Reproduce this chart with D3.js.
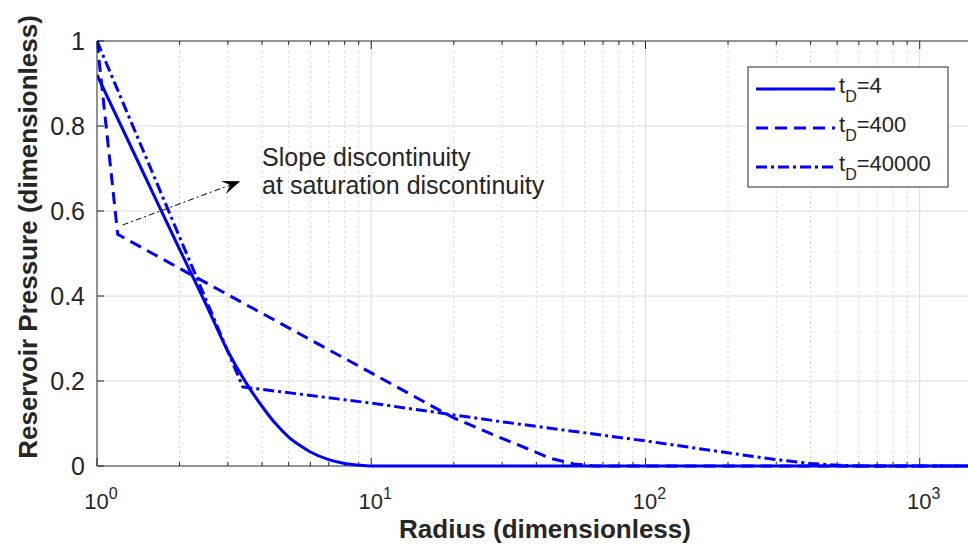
<!DOCTYPE html>
<html>
<head>
<meta charset="utf-8">
<script src="https://cdn.jsdelivr.net/npm/d3@7"></script>
<style>
  body { margin: 0; background: #fff; }
  svg { display: block; font-family: "Liberation Sans", Arial, sans-serif; }
</style>
</head>
<body>
<svg id="chart" width="968" height="550"></svg>
<script>
// radius (dimensionless) and pressure for each t_D curve
const radiusTD4 = [1, 1.5, 2, 2.5, 3, 3.5, 4, 4.5, 5, 5.5, 6, 7, 8, 9, 10, 1500];
const pressureTD4 = [0.92, 0.68, 0.51, 0.38, 0.27, 0.195, 0.14, 0.098, 0.068, 0.048, 0.033, 0.015, 0.006, 0.002, 0, 0];

const radiusTD400 = [1, 1.19, 2, 5, 10, 20, 30, 38, 45, 55, 65, 1500];
const pressureTD400 = [1, 0.545, 0.465, 0.325, 0.219, 0.113, 0.065, 0.038, 0.018, 0.005, 0, 0];

const radiusTD40000 = [1, 3.4, 10, 30, 100, 200, 300, 400, 500, 600, 1500];
const pressureTD40000 = [1, 0.186, 0.148, 0.104, 0.059, 0.031, 0.015, 0.006, 0.002, 0, 0];

const seriesNames = ["4", "400", "40000"];
const yTicks = [0, 0.2, 0.4, 0.6, 0.8, 1];
const xMajorTicks = [1, 10, 100, 1000];
const xTickPowers = ["0", "1", "2", "3"];

// annotation: arrow from/to (radius, pressure) and text anchor
const arrowFrom = [1.24, 0.567];
const arrowTo = [3.33, 0.67];
const noteAt = [4.0, 0.706];
const noteLines = ["Slope discontinuity", "at saturation discontinuity"];

const svg = d3.select("#chart");
const mLeft = 97, mRight = 968, mTop = 41, mBottom = 466;
const xMax = 1500;

const x = d3.scaleLog().domain([1, xMax]).range([mLeft, mRight]);
const y = d3.scaleLinear().domain([0, 1]).range([mBottom, mTop]);

const ink = "#262626";

// minor ticks 2..9 per decade
const xMinorTicks = [];
xMajorTicks.forEach(d => {
    for (let k = 2; k <= 9; k++) {
        if (d * k <= xMax) xMinorTicks.push(d * k);
    }
});

const grid = svg.append("g");
grid.selectAll(".minor").data(xMinorTicks).enter().append("line")
    .attr("x1", d => x(d)).attr("x2", d => x(d))
    .attr("y1", mTop).attr("y2", mBottom)
    .attr("stroke", "#d6d6d6").attr("stroke-width", 1)
    .attr("stroke-dasharray", "2,3");
grid.selectAll(".majorx").data(xMajorTicks.slice(1)).enter().append("line")
    .attr("x1", d => x(d)).attr("x2", d => x(d))
    .attr("y1", mTop).attr("y2", mBottom)
    .attr("stroke", "#dcdcdc").attr("stroke-width", 1);
grid.selectAll(".majory").data(yTicks.slice(1, -1)).enter().append("line")
    .attr("x1", mLeft).attr("x2", mRight)
    .attr("y1", d => y(d)).attr("y2", d => y(d))
    .attr("stroke", "#dcdcdc").attr("stroke-width", 1);

// axes box + ticks
const axes = svg.append("g");
axes.append("line").attr("x1", mLeft).attr("x2", mLeft).attr("y1", mTop).attr("y2", mBottom)
    .attr("stroke", ink).attr("stroke-width", 1);
axes.append("line").attr("x1", mLeft).attr("x2", mRight).attr("y1", mTop).attr("y2", mTop)
    .attr("stroke", ink).attr("stroke-width", 1);
axes.append("line").attr("x1", mLeft).attr("x2", mRight).attr("y1", mBottom).attr("y2", mBottom)
    .attr("stroke", ink).attr("stroke-width", 1);

axes.selectAll(".ytick").data(yTicks).enter().append("line")
    .attr("x1", mLeft).attr("x2", mLeft + 7)
    .attr("y1", d => y(d)).attr("y2", d => y(d))
    .attr("stroke", ink);
axes.selectAll(".ylab").data(yTicks).enter().append("text")
    .attr("x", mLeft - 12).attr("y", d => y(d)).attr("dy", "0.36em")
    .attr("text-anchor", "end").attr("font-size", 25).attr("fill", ink)
    .text(d => d3.format("")(d));

const xTickAll = xMajorTicks.map(d => ({ v: d, len: 8 }))
    .concat(xMinorTicks.map(d => ({ v: d, len: 4 })));
axes.selectAll(".xtickb").data(xTickAll).enter().append("line")
    .attr("x1", d => x(d.v)).attr("x2", d => x(d.v))
    .attr("y1", mBottom).attr("y2", d => mBottom - d.len)
    .attr("stroke", ink);
axes.selectAll(".xtickt").data(xTickAll).enter().append("line")
    .attr("x1", d => x(d.v)).attr("x2", d => x(d.v))
    .attr("y1", mTop).attr("y2", d => mTop + d.len)
    .attr("stroke", ink);

const xl = axes.selectAll(".xlab").data(xMajorTicks).enter().append("text")
    .attr("x", d => x(d) + 4).attr("y", 509)
    .attr("text-anchor", "middle").attr("font-size", 22).attr("fill", ink);
xl.append("tspan").text("10");
xl.append("tspan").attr("dy", -10).attr("font-size", 16).text((d, i) => xTickPowers[i]);

// axis titles
svg.append("text")
    .attr("x", 545).attr("y", 538)
    .attr("text-anchor", "middle").attr("font-size", 26).attr("font-weight", "bold")
    .attr("fill", ink).text("Radius (dimensionless)");
svg.append("text")
    .attr("transform", "translate(37,237) rotate(-90)")
    .attr("text-anchor", "middle").attr("font-size", 26).attr("font-weight", "bold")
    .attr("fill", ink).text("Reservoir Pressure (dimensionless)");

// curves
const series = [
    { rs: radiusTD4, ps: pressureTD4, dash: null, curve: d3.curveMonotoneX },
    { rs: radiusTD400, ps: pressureTD400, dash: "12,7", curve: d3.curveLinear },
    { rs: radiusTD40000, ps: pressureTD40000, dash: "11,4,3,4", curve: d3.curveLinear }
];

svg.append("clipPath").attr("id", "clip").append("rect")
    .attr("x", mLeft).attr("y", mTop - 3).attr("width", mRight - mLeft).attr("height", mBottom - mTop + 6);

const curves = svg.append("g").attr("clip-path", "url(#clip)");
series.forEach(s => {
    const line = d3.line().x(d => x(d[0])).y(d => y(d[1])).curve(s.curve);
    curves.append("path")
        .datum(s.rs.map((r, i) => [r, s.ps[i]]))
        .attr("d", line)
        .attr("fill", "none")
        .attr("stroke", "#0000ff")
        .attr("stroke-width", 3)
        .attr("stroke-dasharray", s.dash);
});

// annotation arrow
const ax0 = x(arrowFrom[0]), ay0 = y(arrowFrom[1]);
const ax1 = x(arrowTo[0]), ay1 = y(arrowTo[1]);
const ang = Math.atan2(ay1 - ay0, ax1 - ax0);
const headLen = 18, headW = 7;
const bx = ax1 - headLen * Math.cos(ang), by = ay1 - headLen * Math.sin(ang);
const mx = ax1 - headLen * 0.6 * Math.cos(ang), my = ay1 - headLen * 0.6 * Math.sin(ang);
svg.append("line")
    .attr("x1", ax0).attr("y1", ay0).attr("x2", mx).attr("y2", my)
    .attr("stroke", "#000").attr("stroke-width", 1)
    .attr("stroke-dasharray", "6,3,2,3");
svg.append("path")
    .attr("d", d3.line()([
        [ax1, ay1],
        [bx - headW * Math.sin(ang), by + headW * Math.cos(ang)],
        [mx, my],
        [bx + headW * Math.sin(ang), by - headW * Math.cos(ang)]
    ]) + "Z")
    .attr("fill", "#000");

svg.append("text")
    .attr("x", x(noteAt[0])).attr("y", y(noteAt[1]))
    .attr("font-size", 25).attr("fill", ink)
    .selectAll("tspan").data(noteLines).enter().append("tspan")
    .attr("x", x(noteAt[0])).attr("dy", (d, i) => i === 0 ? 0 : 28)
    .text(d => d);

// legend
const lg = svg.append("g");
lg.append("rect")
    .attr("x", 748).attr("y", 67).attr("width", 200).attr("height", 120)
    .attr("fill", "#fff").attr("stroke", ink).attr("stroke-width", 1);
seriesNames.forEach((name, i) => {
    const ly = 89 + i * 39;
    lg.append("line")
        .attr("x1", 756).attr("x2", 835).attr("y1", ly).attr("y2", ly)
        .attr("stroke", "#0000ff").attr("stroke-width", 3)
        .attr("stroke-dasharray", series[i].dash);
    const t = lg.append("text")
        .attr("x", 839).attr("y", ly + 4)
        .attr("font-size", 22).attr("fill", ink);
    t.append("tspan").text("t");
    t.append("tspan").attr("dy", 9).attr("font-size", 16).text("D");
    t.append("tspan").attr("dy", -9).text("=" + name);
});
</script>
</body>
</html>
